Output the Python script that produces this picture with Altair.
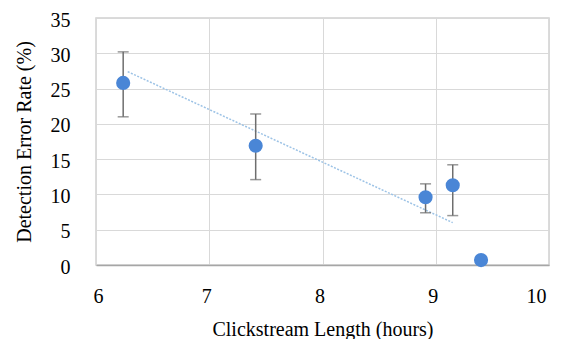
import altair as alt
import pandas as pd

# data
length_h = [6.24, 7.41, 8.91, 9.15, 9.40]
error_rate = [25.8, 16.9, 9.6, 11.3, 0.7]
err_x = [6.24, 7.41, 8.91, 9.15]
err_low = [21.0, 12.1, 7.4, 7.0]
err_high = [30.2, 21.4, 11.5, 14.2]
trend_x = [6.28, 9.15]
trend_y = [27.4, 6.0]
x_ticks = [6, 7, 8, 9, 10]
y_ticks = [0, 5, 10, 15, 20, 25, 30, 35]

pts = pd.DataFrame({"x": length_h, "y": error_rate})
errs = pd.DataFrame({"x": err_x, "lo": err_low, "hi": err_high})
trend = pd.DataFrame({"x": trend_x, "y": trend_y})

FONT = "Liberation Serif"
xscale = alt.Scale(domain=[6, 10], nice=False, zero=False)
yscale = alt.Scale(domain=[0, 35], nice=False)

xaxis = alt.Axis(title="Clickstream Length (hours)", values=x_ticks, format="d",
                 grid=True, gridColor="#d9d9d9", tickSize=0, labelPadding=21,
                 labelOverlap=False, tickCount=5, labelOffset=-3,
                 domainColor="#a6a6a6", domainWidth=1.5, titlePadding=13)
yaxis = alt.Axis(title="Detection Error Rate (%)", values=y_ticks, tickCount=8,
                 format="d", labelOverlap=False, labelOffset=2,
                 grid=True, gridColor="#d9d9d9", tickSize=0, labelPadding=26,
                 domain=False, titlePadding=16)


def X(f):
    return alt.X(f, scale=xscale, axis=xaxis)


def Y(f):
    return alt.Y(f, scale=yscale, axis=yaxis)


trend_line = alt.Chart(trend).mark_line(
    color="#9dc3e6", strokeWidth=1.5, strokeDash=[2, 1.5]
).encode(x=X("x:Q"), y=Y("y:Q"))

bars = alt.Chart(errs).mark_rule(color="#6e6e6e", strokeWidth=1.5).encode(
    x=X("x:Q"), y=Y("lo:Q"), y2="hi:Q"
)
cap_lo = alt.Chart(errs).mark_tick(color="#6e6e6e", orient="horizontal", size=11, thickness=1.5).encode(
    x=X("x:Q"), y=Y("lo:Q")
)
cap_hi = alt.Chart(errs).mark_tick(color="#6e6e6e", orient="horizontal", size=11, thickness=1.5).encode(
    x=X("x:Q"), y=Y("hi:Q")
)

points = alt.Chart(pts).mark_point(
    filled=True, color="#4a86d6", opacity=1, size=200, shape="circle"
).encode(x=X("x:Q"), y=Y("y:Q"))

chart = (
    alt.layer(trend_line, bars, cap_lo, cap_hi, points)
    .properties(width=453, height=247, autosize=alt.AutoSizeParams(type="none"),
                background="white",
                padding={"left": 88, "top": 10, "right": 6, "bottom": 74})
    .configure_view(stroke="#d0d0d0", strokeWidth=1.5)
    .configure_axis(labelFont=FONT, titleFont=FONT, labelFontSize=20, titleFontSize=20,
                    labelColor="#000000", titleColor="#000000", titleFontWeight="normal")
)

chart.save("out.html", embed_options={"renderer": "svg", "actions": False})
